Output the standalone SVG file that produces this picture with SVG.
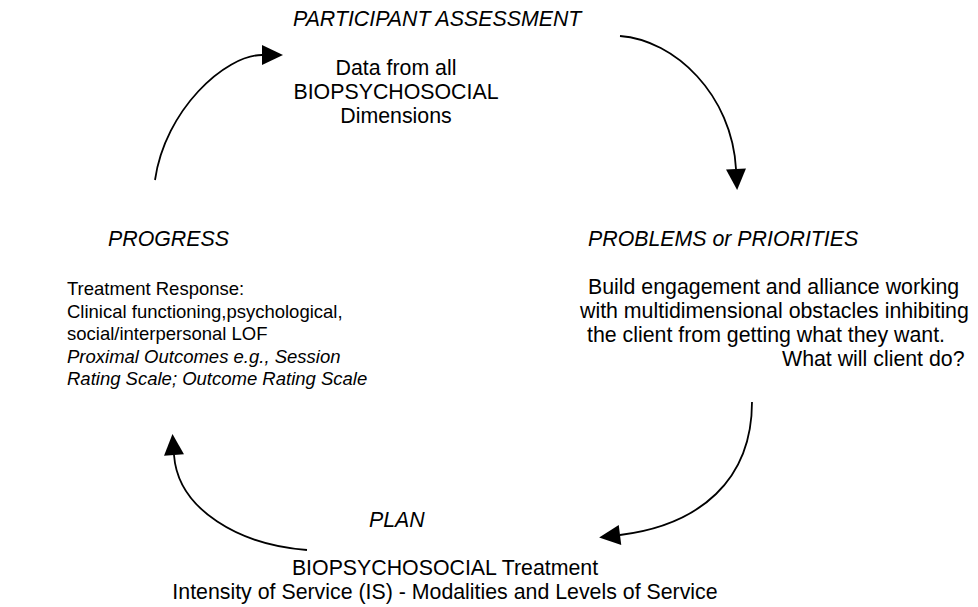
<svg xmlns="http://www.w3.org/2000/svg" width="978" height="607" viewBox="0 0 978 607">
<style>
text{font-family:"Liberation Sans",Arial,sans-serif;font-size:21.33px;fill:#000}
.i{font-style:italic}
.c{text-anchor:middle}
.s{font-size:18.5px}
.arc{fill:none;stroke:#000;stroke-width:1.8}
</style>
<defs>
<marker id="ah" markerUnits="userSpaceOnUse" markerWidth="22" markerHeight="22" refX="0" refY="10" orient="auto" overflow="visible">
<path d="M0,0 L21,10 L0,20 Z" fill="#000"/>
</marker>
</defs>
<rect width="978" height="607" fill="#fff"/>
<g id="connectors">
<path class="arc" d="M155,180 C165,110 225,55 262,55" marker-end="url(#ah)"/>
<path class="arc" d="M620,36 C675,40 732,95 736,169" marker-end="url(#ah)"/>
<path class="arc" d="M752,402 C752,480 700,525 620,535" marker-end="url(#ah)"/>
<path class="arc" d="M307,550 C240,545 178,510 174,455" marker-end="url(#ah)"/>
</g>
<g id="assessment">
<text class="i" x="293" y="26">PARTICIPANT ASSESSMENT</text>
<text class="c" x="396" y="75">Data from all</text>
<text class="c" x="396" y="99">BIOPSYCHOSOCIAL</text>
<text class="c" x="396" y="123">Dimensions</text>
</g>
<g id="problems">
<text class="i" x="588" y="246">PROBLEMS or PRIORITIES</text>
<text x="588" y="294">Build engagement and alliance working</text>
<text x="580" y="318">with multidimensional obstacles inhibiting</text>
<text x="587" y="342">the client from getting what they want.</text>
<text x="782" y="366">What will client do?</text>
</g>
<g id="plan">
<text class="i" x="369" y="527">PLAN</text>
<text class="c" x="445" y="575">BIOPSYCHOSOCIAL Treatment</text>
<text class="c" x="445" y="599">Intensity of Service (IS) - Modalities and Levels of Service</text>
</g>
<g id="progress">
<text class="i" x="108" y="246">PROGRESS</text>
<text class="s" x="67" y="295">Treatment Response:</text>
<text class="s" x="67" y="317.5">Clinical functioning,psychological,</text>
<text class="s" x="67" y="340">social/interpersonal LOF</text>
<text class="s i" x="67" y="362.5">Proximal Outcomes e.g., Session</text>
<text class="s i" x="67" y="385">Rating Scale; Outcome Rating Scale</text>
</g>
</svg>
